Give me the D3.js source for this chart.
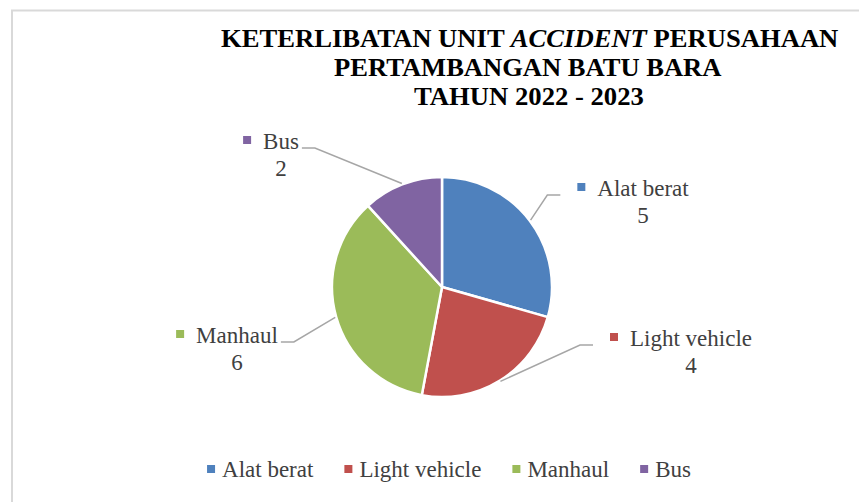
<!DOCTYPE html>
<html>
<head>
<meta charset="utf-8">
<script src="https://cdn.jsdelivr.net/npm/d3@7"></script>
<style>
  html, body { margin: 0; padding: 0; background: #fff; }
  svg { display: block; }
</style>
</head>
<body>
<svg id="chart" width="859" height="502"></svg>
<script>
// ---- data ----
const categories = ["Alat berat", "Light vehicle", "Manhaul", "Bus"];
const values = [5, 4, 6, 2];
const colors = ["#4F81BD", "#C0504D", "#9BBB59", "#8064A2"];
const titleLines = [
  [{t: "KETERLIBATAN UNIT ", i: false}, {t: "ACCIDENT", i: true}, {t: " PERUSAHAAN", i: false}],
  [{t: "PERTAMBANGAN BATU BARA", i: false}],
  [{t: "TAHUN 2022 - 2023", i: false}]
];

// ---- layout (positions, not data) ----
const W = 859, H = 502;
const cx = 442, cy = 287, R = 110;
const labelLayout = [
  {dx: 201, dy: -91, side: "right"},
  {dx: 249, dy: 59, side: "right"},
  {dx: -205, dy: 56, side: "left"},
  {dx: -161, dy: -138, side: "left"}
];
const titleSpec = [
  {x0: 221, x1: 839, y: 47},
  {x0: 334, x1: 722, y: 76},
  {x0: 414, x1: 644, y: 105}
];
const serif = '"Liberation Serif", "Times New Roman", Times, serif';
const textColor = "#404040";

const svg = d3.select("#chart");

// frame
svg.append("rect")
  .attr("x", 12).attr("y", 10.5)
  .attr("width", W + 50).attr("height", H + 50)
  .attr("fill", "#fff")
  .attr("stroke", "#d9d9d9").attr("stroke-width", 2);

// title
titleLines.forEach((parts, li) => {
  const spec = titleSpec[li];
  const g = svg.append("g");
  const txt = g.append("text")
    .attr("x", 0).attr("y", 0)
    .style("font-family", serif)
    .style("font-weight", "bold")
    .style("font-size", "26px")
    .attr("fill", "#000")
    .style("white-space", "pre");
  parts.forEach(p => {
    txt.append("tspan").style("font-style", p.i ? "italic" : "normal").text(p.t);
  });
  const bb = txt.node().getBBox();
  const sx = (spec.x1 - spec.x0) / bb.width;
  g.attr("transform", `translate(${spec.x0 - bb.x * sx},${spec.y}) scale(${sx},1)`);
});

// pie
const pie = d3.pie().sort(null).value(d => d)(values);
const arc = d3.arc().innerRadius(0).outerRadius(R);
const pg = svg.append("g").attr("transform", `translate(${cx},${cy})`);
pg.selectAll("path.slice")
  .data(pie)
  .join("path")
  .attr("class", "slice")
  .attr("d", arc)
  .attr("fill", (d, i) => colors[i])
  .attr("stroke", "#fff")
  .attr("stroke-width", 2.5)
  .attr("stroke-linejoin", "round");

// data labels with leader lines
const edgeArc = d3.arc().innerRadius(R + 1).outerRadius(R + 1);
pie.forEach((d, i) => {
  const L = labelLayout[i];
  const tx = cx + L.dx, ty = cy + L.dy;
  const lab = svg.append("g");
  const t1 = lab.append("text")
    .attr("x", tx).attr("y", ty)
    .attr("text-anchor", "middle")
    .style("font-family", serif).style("font-size", "23px")
    .attr("fill", textColor)
    .text(categories[i]);
  lab.append("text")
    .attr("x", tx).attr("y", ty + 27)
    .attr("text-anchor", "middle")
    .style("font-family", serif).style("font-size", "23px")
    .attr("fill", textColor)
    .text(values[i]);
  const w = t1.node().getComputedTextLength();
  const left = tx - w / 2, right = tx + w / 2;
  const sqX = left - 20;
  lab.append("rect")
    .attr("x", sqX).attr("y", ty - 13)
    .attr("width", 8).attr("height", 8)
    .attr("fill", colors[i]);
  const c = edgeArc.centroid(d);
  const ex = cx + c[0], ey = cy + c[1];
  let hx0, hx1;
  if (L.side === "right") { hx0 = sqX - 17; hx1 = sqX - 30; }
  else { hx0 = right + 3; hx1 = right + 16; }
  const ly = ty - 1;
  svg.append("path")
    .attr("d", d3.line()([[hx0, ly], [hx1, ly], [ex, ey]]))
    .attr("fill", "none")
    .attr("stroke", "#a6a6a6")
    .attr("stroke-width", 1.5);
});

// legend
const lg = svg.append("g");
const items = categories.map((c, i) => {
  const g = lg.append("g");
  g.append("rect").attr("x", 0).attr("y", -12).attr("width", 8).attr("height", 8).attr("fill", colors[i]);
  const t = g.append("text").attr("x", 15).attr("y", 0)
    .style("font-family", serif).style("font-size", "23px").attr("fill", textColor).text(c);
  return {g, w: 15 + t.node().getComputedTextLength()};
});
const gap = 31;
const total = d3.sum(items, d => d.w) + gap * (items.length - 1);
let x = 449 - total / 2;
items.forEach(it => {
  it.g.attr("transform", `translate(${x},477)`);
  x += it.w + gap;
});
</script>
</body>
</html>
